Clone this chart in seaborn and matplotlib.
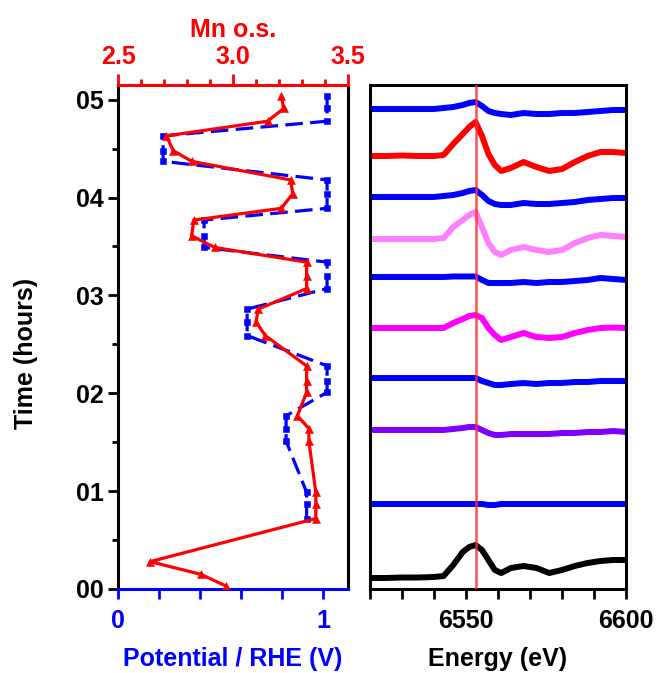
import numpy as np
import pandas as pd
import matplotlib
matplotlib.use("Agg")
import matplotlib.pyplot as plt
import seaborn as sns
from matplotlib.ticker import MultipleLocator, FixedLocator, FuncFormatter

# ---------------- data ----------------
time_h = [5.04, 4.91, 4.78, 4.63, 4.48, 4.37, 4.18, 4.04, 3.89, 3.77, 3.61, 3.49,
          3.34, 3.20, 3.07, 2.86, 2.73, 2.59, 2.28, 2.13, 2.01, 1.77, 1.64, 1.51,
          0.99, 0.87, 0.72, 0.28, 0.15, 0.03]
mn_os = [3.21, 3.22, 3.15, 2.71, 2.74, 2.82, 3.25, 3.26, 3.21, 2.83, 2.82, 2.92,
         3.32, 3.32, 3.32, 3.11, 3.10, 3.14, 3.32, 3.32, 3.32, 3.28, 3.33, 3.33,
         3.36, 3.36, 3.36, 2.64, 2.86, 2.97]
pot_time = [5.04, 4.91, 4.78, 4.63, 4.48, 4.37, 4.18, 4.04, 3.89, 3.77, 3.61, 3.49,
            3.34, 3.20, 3.07, 2.86, 2.73, 2.59, 2.28, 2.13, 2.01, 1.77, 1.64, 1.51,
            0.99, 0.87, 0.72]
potential = [1.02, 1.02, 1.02, 0.22, 0.22, 0.22, 1.02, 1.02, 1.02, 0.42, 0.42, 0.42,
             1.02, 1.02, 1.02, 0.63, 0.63, 0.63, 1.02, 1.02, 1.02, 0.82, 0.82, 0.82,
             0.92, 0.92, 0.92]

energy = [6520, 6525, 6530, 6535, 6540, 6543, 6546, 6549, 6551, 6553, 6555, 6557,
          6559, 6561, 6564, 6568, 6572, 6576, 6580, 6584, 6588, 6592, 6596, 6600]
spec_blue1 = [0, 0, 0, 0, 0, 0.1, 0.2, 0.4, 0.6, 0.7, 0.3, -0.2,
              -0.4, -0.5, -0.6, -0.4, -0.5, -0.5, -0.4, -0.4, -0.3, -0.2, -0.1, -0.1]
spec_red = [0, 0, 0.05, 0, 0, 0.1, 1.2, 2.2, 2.9, 3.4, 2.0, 0.2,
            -0.9, -1.5, -1.2, -0.6, -1.1, -1.5, -1.3, -0.6, 0.0, 0.4, 0.4, 0.3]
spec_blue3 = [0, 0, 0, 0, 0, 0.1, 0.2, 0.4, 0.6, 0.7, 0.2, -0.4,
              -0.7, -0.8, -0.8, -0.6, -0.7, -0.7, -0.6, -0.5, -0.3, -0.2, -0.1, -0.1]
spec_pink = [0, 0, 0, 0, 0, 0.1, 1.2, 1.9, 2.4, 2.7, 1.2, -0.4,
             -1.3, -1.6, -1.1, -0.8, -1.1, -1.3, -1.1, -0.4, 0.1, 0.4, 0.3, 0.2]
spec_blue5 = [0, 0, 0, 0, 0, 0, 0.05, 0.05, 0.05, 0.05, -0.3, -0.6,
              -0.6, -0.6, -0.6, -0.5, -0.6, -0.5, -0.5, -0.4, -0.3, -0.1, -0.2, -0.3]
spec_magenta = [0, 0, 0, 0, 0, 0, 0.5, 0.9, 1.2, 1.3, 1.0, 0.0,
                -0.7, -1.2, -0.9, -0.5, -0.9, -1.0, -0.9, -0.5, -0.2, 0.0, 0.05, 0.0]
spec_blue7 = [0, 0, 0, 0, 0, 0, 0, 0, 0, 0, -0.3, -0.5,
              -0.7, -0.7, -0.6, -0.5, -0.6, -0.5, -0.5, -0.4, -0.4, -0.3, -0.3, -0.3]
spec_purple = [0, 0, 0, 0, 0, 0, 0.1, 0.2, 0.3, 0.3, 0.0, -0.3,
               -0.5, -0.5, -0.4, -0.4, -0.4, -0.4, -0.3, -0.3, -0.2, -0.2, -0.1, -0.2]
spec_blue9 = [0, 0, 0, 0, 0, 0, 0, 0, 0, 0, 0, -0.1,
              -0.1, 0, 0, 0, 0, 0, 0, 0, 0, 0, 0, 0]
spec_black = [0, 0, 0.05, 0.05, 0.1, 0.2, 1.3, 2.6, 3.1, 3.3, 2.8, 1.8,
              0.8, 0.5, 1.0, 1.2, 1.0, 0.5, 0.8, 1.2, 1.5, 1.7, 1.8, 1.8]

spectra = [spec_blue1, spec_red, spec_blue3, spec_pink, spec_blue5,
           spec_magenta, spec_blue7, spec_purple, spec_blue9, spec_black]
offsets = [48.0, 43.3, 39.2, 35.0, 31.2, 26.1, 21.1, 15.9, 8.5, 1.1]
colors = ["#0000FF", "#FF0000", "#0000FF", "#FF80FF", "#0000FF",
          "#FF00FF", "#0000FF", "#8000FF", "#0000FF", "#000000"]
edge_energy = 6553

# ---------------- style ----------------
sns.set_style("ticks")
plt.rcParams["font.family"] = ["Liberation Sans", "DejaVu Sans"]
plt.rcParams["font.weight"] = "bold"
plt.rcParams["axes.labelweight"] = "bold"
plt.rcParams["text.color"] = "black"
plt.rcParams["axes.labelcolor"] = "black"
plt.rcParams["xtick.color"] = "black"
plt.rcParams["ytick.color"] = "black"

fig = plt.figure(figsize=(6.57, 6.73), dpi=100)
AX_B = 84 / 673
AX_H = 504 / 673
ax = fig.add_axes([118 / 657, AX_B, 230 / 657, AX_H])
axr = fig.add_axes([370 / 657, AX_B, 256 / 657, AX_H])

BLUE = "#0000FF"
RED = "#FF0000"
LW_SP = 2.2
TS = 18
LS = 18

# ---- left panel: potential (bottom axis) ----
df_pot = pd.DataFrame({"V": potential, "t": pot_time})
sns.lineplot(data=df_pot, x="V", y="t", sort=False, estimator=None, orient="y",
             color=BLUE, lw=2.3, linestyle=(0, (5.5, 2.3)), marker="s",
             markersize=4.2, markeredgewidth=0.4, markeredgecolor=BLUE,
             markerfacecolor=BLUE, ax=ax, legend=False)
ax.set_xlim(0, 1.122)
ax.set_ylim(0, 5.15)
ax.xaxis.set_major_locator(FixedLocator([0, 0.2, 0.4, 0.6, 0.8, 1.0]))
ax.xaxis.set_major_formatter(FuncFormatter(
    lambda v, p: "0" if abs(v) < 1e-6 else ("1" if abs(v - 1) < 1e-6 else "")))
ax.yaxis.set_major_locator(MultipleLocator(1))
ax.yaxis.set_minor_locator(MultipleLocator(0.5))
ax.yaxis.set_major_formatter(FuncFormatter(lambda v, p: "%02d" % int(round(v))))
ax.tick_params(axis="x", which="major", direction="out", length=7, width=2,
               colors=BLUE, labelsize=TS, pad=7.5)
ax.tick_params(axis="y", which="major", direction="out", length=7.5, width=2,
               colors="black", labelsize=TS, pad=3)
ax.tick_params(axis="y", which="minor", direction="out", length=4, width=2,
               colors="black")
ax.set_xlabel("Potential / RHE (V)", color=BLUE, fontsize=LS, labelpad=10)
ax.set_ylabel("Time (hours)", color="black", fontsize=LS)
ax.yaxis.set_label_coords(-0.348, 0.468)
for s in ["left", "right"]:
    ax.spines[s].set_linewidth(LW_SP)
    ax.spines[s].set_color("black")
ax.spines["bottom"].set_linewidth(LW_SP)
ax.spines["bottom"].set_color(BLUE)
ax.spines["top"].set_visible(False)

# ---- left panel: Mn oxidation state (top axis) ----
ax2 = ax.twiny()
df_mn = pd.DataFrame({"Mn": mn_os, "t": time_h})
sns.lineplot(data=df_mn, x="Mn", y="t", sort=False, estimator=None, orient="y",
             color=RED, lw=2.3, marker="^", markersize=5.2, markeredgewidth=0.4,
             markeredgecolor=RED, markerfacecolor=RED, ax=ax2, legend=False)
ax2.set_xlim(2.5, 3.5)
ax2.set_ylim(0, 5.15)
ax2.xaxis.set_major_locator(FixedLocator([2.5, 3.0, 3.5]))
ax2.xaxis.set_minor_locator(MultipleLocator(0.1))
ax2.xaxis.set_major_formatter(FuncFormatter(lambda v, p: "%.1f" % v))
ax2.tick_params(axis="x", which="major", direction="out", length=8, width=2,
                colors=RED, labelsize=TS, pad=3.6)
ax2.tick_params(axis="x", which="minor", direction="out", length=4, width=2,
                colors=RED)
ax2.set_xlabel("Mn o.s.", color=RED, fontsize=LS, labelpad=6)
ax2.spines["top"].set_linewidth(LW_SP)
ax2.spines["top"].set_color(RED)
for s in ["left", "right", "bottom"]:
    ax2.spines[s].set_visible(False)

# ---- right panel: spectra ----
for vals, off, c in zip(spectra, offsets, colors):
    dfs = pd.DataFrame({"E": energy, "mu": [v + off for v in vals]})
    sns.lineplot(data=dfs, x="E", y="mu", sort=False, estimator=None, color=c,
                 lw=4.3, ax=axr, legend=False, solid_joinstyle="round",
                 solid_capstyle="butt")
axr.axvline(edge_energy, color="#FF3030", lw=1.8, alpha=0.85, zorder=5)
axr.set_xlim(6520, 6600)
axr.set_ylim(0, 50.4)
axr.xaxis.set_major_locator(MultipleLocator(10))
axr.xaxis.set_major_formatter(FuncFormatter(
    lambda v, p: "%d" % v if int(round(v)) in (6550, 6600) else ""))
axr.set_yticks([])
axr.set_ylabel("")
axr.tick_params(axis="x", which="major", direction="out", length=7, width=2,
                colors="black", labelsize=TS, pad=7.5)
axr.set_xlabel("Energy (eV)", fontsize=LS, labelpad=10)
for s in ["left", "right", "top", "bottom"]:
    axr.spines[s].set_linewidth(LW_SP)
    axr.spines[s].set_color("black")

fig.savefig("out.png", dpi=100)
